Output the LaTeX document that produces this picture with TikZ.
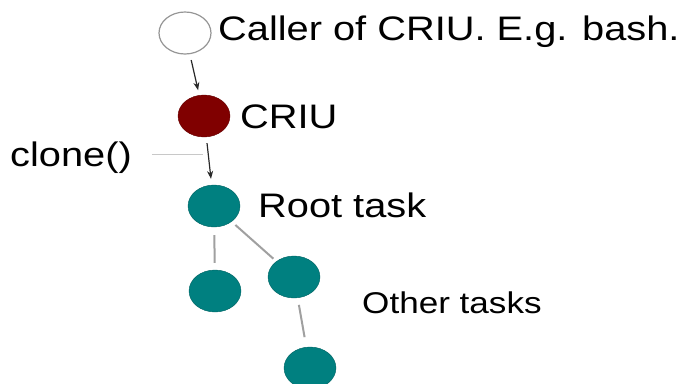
\documentclass[tikz,border=0pt]{standalone}
\usepackage{fontspec}
\setmainfont[FakeStretch=1.17]{Liberation Sans}
\usetikzlibrary{arrows.meta,shapes.geometric}
\definecolor{taskteal}{RGB}{0,128,128}
\definecolor{tasktealdark}{RGB}{0,100,100}
\definecolor{criured}{RGB}{128,0,0}
\definecolor{linkgray}{RGB}{160,160,160}
\begin{document}
\begin{tikzpicture}[x=1pt,y=-1pt]
        \tikzstyle{every node}=[font=\fontsize{34}{40}\selectfont]
        \tikzstyle{proc}=[ellipse, minimum width=52pt, minimum height=42pt, inner sep=0pt]
        \tikzstyle{label}=[anchor=base west, inner sep=0pt]
        \useasboundingbox (0,0) rectangle (688,383);
        \node [proc, draw={rgb,255:red,150; green,150; blue,150}, fill=white, line width=1.2pt] (caller) at (185,33) {};
        \node [proc, draw=criured!80!black, fill=criured] (criu) at (204,116) {};
        \node [proc, draw=tasktealdark, fill=taskteal] (root) at (214,206) {};
        \node [proc, draw=tasktealdark, fill=taskteal] (childa) at (215,291) {};
        \node [proc, draw=tasktealdark, fill=taskteal] (childb) at (294,277) {};
        \node [proc, draw=tasktealdark, fill=taskteal] (childc) at (310,368) {};
        \node [label] (callertext) at (218,40) {Caller of CRIU. E.g. bash.};
        \node [label] (criutext) at (240,128) {CRIU};
        \node [label] (clone) at (10,166) {clone()};
        \node [label] (roottext) at (258,217) {Root task};
        \node [label, font=\fontsize{30}{36}\selectfont] (othertext) at (362,313) {Other tasks};
        \coordinate (clonetip) at (203,154);
        \draw [->, >={Stealth[length=8pt,width=6pt]}, color={rgb,255:red,40; green,40; blue,40}, line width=1.2pt, shorten <=6pt, shorten >=5pt] (caller) -- (criu);
        \draw [->, >={Stealth[length=8pt,width=6pt]}, color={rgb,255:red,40; green,40; blue,40}, line width=1.2pt, shorten <=6pt, shorten >=6pt] (criu) -- (root);
        \draw [color={rgb,255:red,200; green,200; blue,200}, line width=1pt] ([xshift=20pt, yshift=12pt]clone.base east) -- (clonetip);
        \draw [linkgray, line width=2pt, shorten <=8pt, shorten >=7pt] (root) -- (childa);
        \draw [linkgray, line width=2pt, shorten <=5pt, shorten >=4pt] (root) -- (childb);
        \draw [linkgray, line width=2pt, shorten <=7pt, shorten >=10pt] (childb) -- (childc);
    \end{tikzpicture}
\end{document}
